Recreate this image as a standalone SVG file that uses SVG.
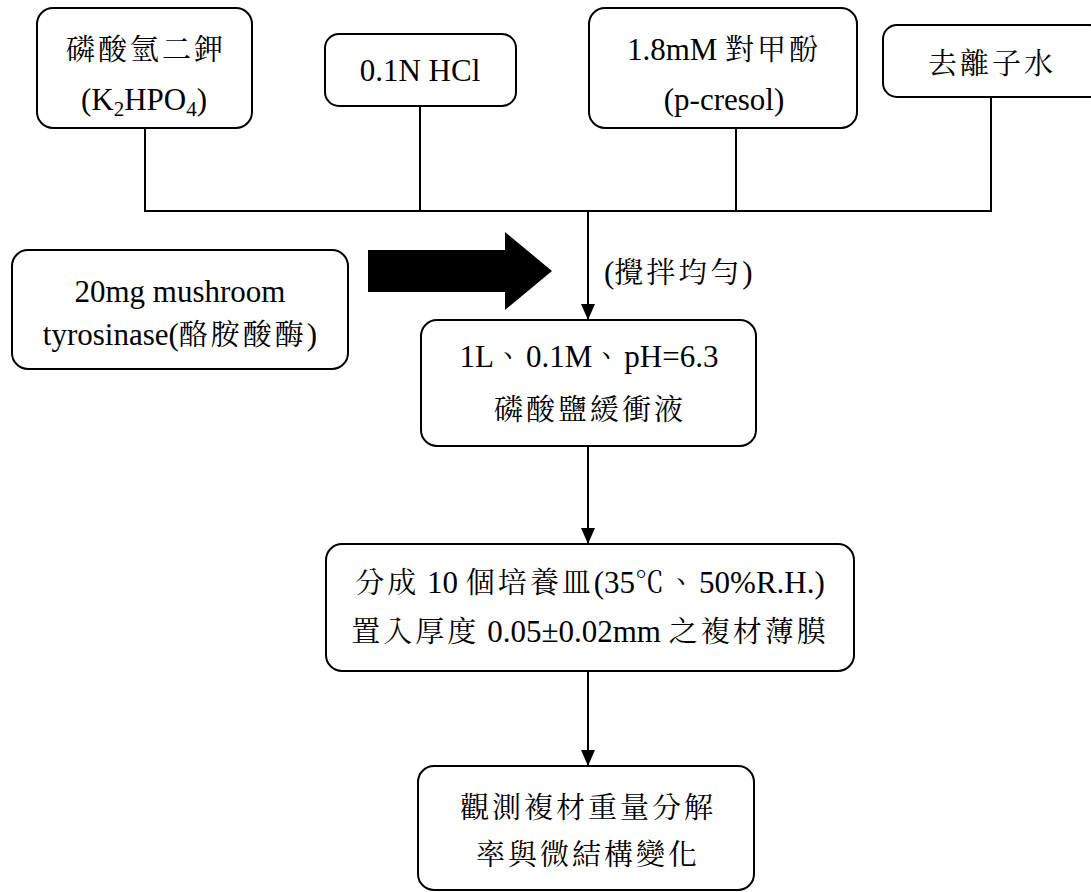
<svg xmlns="http://www.w3.org/2000/svg" width="1091" height="892" viewBox="0 0 1091 892">
<style>
.t { font-family: "Liberation Serif", "Noto Serif CJK TC", "Noto Sans CJK TC", serif; font-size: 31px; fill: #000; text-anchor: middle; }
.s { text-anchor: start; }
.c { font-size: 29px; letter-spacing: 3px; }
.sub { font-size: 21px; }
.box { fill: #fff; stroke: #000; stroke-width: 2; }
.ln { stroke: #000; stroke-width: 2; fill: none; }
</style>
<defs>
<marker id="ah" markerUnits="userSpaceOnUse" markerWidth="16" markerHeight="14" viewBox="0 0 16 14" refX="16" refY="7" orient="auto">
<path d="M0,0 L16,7 L0,14 z" fill="#000"/>
</marker>
</defs>
<rect width="1091" height="892" fill="#fff"/>
<g id="connectors">
<line class="ln" x1="145" y1="128" x2="145" y2="211"/>
<line class="ln" x1="420" y1="106" x2="420" y2="211"/>
<line class="ln" x1="736" y1="128" x2="736" y2="211"/>
<line class="ln" x1="991" y1="97" x2="991" y2="211"/>
<line class="ln" x1="144" y1="211" x2="992" y2="211"/>
<line class="ln" x1="588" y1="211" x2="588" y2="320" marker-end="url(#ah)"/>
<line class="ln" x1="588" y1="446" x2="588" y2="544" marker-end="url(#ah)"/>
<line class="ln" x1="588" y1="671" x2="588" y2="766" marker-end="url(#ah)"/>
<polygon points="368,250 505,250 505,232 552,271 505,310 505,292 368,292" fill="#000"/>
<text class="t s" x="604" y="283">(<tspan class="c">攪拌均勻</tspan>)</text>
</g>
<g id="n1">
<rect class="box" x="37" y="8" width="215" height="120" rx="16"/>
<text class="t" x="146" y="60"><tspan class="c">磷酸氫二鉀</tspan></text>
<text class="t" x="144" y="110">(K<tspan class="sub" dy="6">2</tspan><tspan dy="-6">HPO</tspan><tspan class="sub" dy="6">4</tspan><tspan dy="-6">)</tspan></text>
</g>
<g id="n2">
<rect class="box" x="325" y="34" width="191" height="72" rx="14"/>
<text class="t" x="420" y="81">0.1N HCl</text>
</g>
<g id="n3">
<rect class="box" x="589" y="8" width="268" height="120" rx="16"/>
<text class="t" x="724" y="60">1.8mM <tspan class="c">對甲酚</tspan></text>
<text class="t" x="724" y="110">(p-cresol)</text>
</g>
<g id="n4">
<rect class="box" x="883" y="25" width="220" height="72" rx="14"/>
<text class="t" x="992" y="74"><tspan class="c">去離子水</tspan></text>
</g>
<g id="n5">
<rect class="box" x="12" y="250" width="336" height="119" rx="16"/>
<text class="t" x="180" y="302">20mg mushroom</text>
<text class="t" x="180" y="345">tyrosinase(<tspan class="c">酪胺酸酶</tspan>)</text>
</g>
<g id="n6">
<rect class="box" x="421" y="320" width="335" height="126" rx="16"/>
<text class="t" x="589" y="367">1L<tspan class="c">、</tspan>0.1M<tspan class="c">、</tspan>pH=6.3</text>
<text class="t" x="590" y="420"><tspan class="c">磷酸鹽緩衝液</tspan></text>
</g>
<g id="n7">
<rect class="box" x="326" y="544" width="528" height="127" rx="16"/>
<text class="t" x="590" y="593"><tspan class="c">分成</tspan> 10 <tspan class="c">個培養皿</tspan>(35<tspan class="c">℃、</tspan>50%R.H.)</text>
<text class="t" x="590" y="642"><tspan class="c">置入厚度</tspan> 0.05±0.02mm <tspan class="c">之複材薄膜</tspan></text>
</g>
<g id="n8">
<rect class="box" x="418" y="766" width="336" height="124" rx="16"/>
<text class="t" x="588" y="818"><tspan class="c">觀測複材重量分解</tspan></text>
<text class="t" x="588" y="865"><tspan class="c">率與微結構變化</tspan></text>
</g>
</svg>
